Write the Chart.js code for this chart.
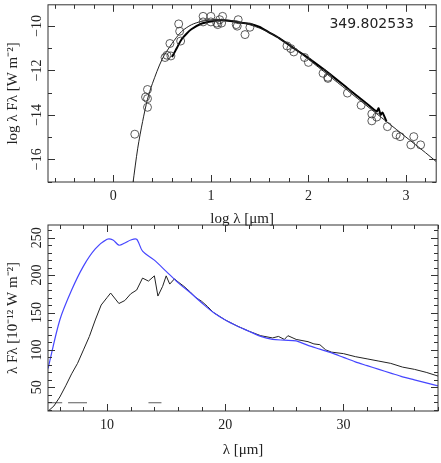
<!DOCTYPE html>
<html><head><meta charset="utf-8">
<script src="https://cdn.jsdelivr.net/npm/chart.js@4/dist/chart.umd.min.js"></script>
<style>
body{margin:0;background:#fff;width:441px;height:463px;position:relative;overflow:hidden}
#c1{position:absolute;left:0;top:0}
#c2{position:absolute;left:0;top:224px}
</style></head><body>
<canvas id="c1" width="441" height="232"></canvas>
<canvas id="c2" width="441" height="239"></canvas>
<script>
// top panel: photometry (log lambda, log lambda F)
const photX = [0.22,0.35,0.33,0.35,0.35,0.53,0.55,0.59,0.58,0.67,0.68,0.69,0.92,1.0,0.92,1.0,1.06,1.07,1.12,1.11,1.09,1.28,1.26,1.27,1.35,1.40,1.78,1.82,1.85,1.96,2.0,2.15,2.2,2.2,2.40,2.54,2.65,2.65,2.70,2.81,2.90,2.94,3.05,3.08,3.15]
const photY = [-14.87,-12.86,-13.2,-13.27,-13.66,-11.42,-11.32,-11.35,-10.79,-9.91,-10.24,-10.68,-9.57,-9.57,-9.82,-9.82,-9.87,-9.94,-9.57,-9.87,-9.72,-9.72,-9.94,-10.01,-10.39,-10.06,-10.9,-11.02,-11.17,-11.42,-11.64,-12.13,-12.31,-12.36,-13.02,-13.57,-13.96,-14.27,-14.1,-14.53,-14.9,-14.98,-15.35,-14.98,-15.35]
const modelX = [0.2,0.25,0.3,0.35,0.4,0.5,0.6,0.7,0.8,0.9,1.0,1.1,1.2,1.3,1.4,1.5,1.6,1.7,1.8,1.9,2.0,2.2,2.4,2.6,2.8,3.0,3.2,3.31]
const modelY = [-17.1,-15.5,-14.3,-13.3,-12.6,-11.5,-10.8,-10.25,-9.95,-9.8,-9.73,-9.72,-9.75,-9.83,-9.95,-10.1,-10.3,-10.55,-10.85,-11.15,-11.5,-12.2,-12.9,-13.6,-14.3,-15.0,-15.7,-16.1]
const specX = [0.6,0.62,0.65,0.7,0.75,0.8,0.9,1.0,1.1,1.2,1.3,1.4,1.5,1.6,1.7,1.8,1.9,2.0,2.2,2.4,2.6,2.7,2.72,2.74,2.76,2.8]
const specY = [-11.4,-11.25,-11.0,-10.6,-10.35,-10.15,-9.9,-9.8,-9.75,-9.78,-9.85,-9.9,-10.05,-10.3,-10.55,-10.85,-11.15,-11.45,-12.1,-12.8,-13.5,-13.85,-13.7,-14.0,-13.9,-14.3]
const topXTicks = [0,1,2,3]
const topYTicks = [-16,-14,-12,-10]

// bottom panel: spectrum vs model (lambda in micron)
const modX2 = [5,6,7,8,9,10,10.5,11,11.5,12,12.5,13,14,15,16,17,18,19,20,21,22,23,24,25,26,27,28,29,30,31,32,33,34,35,36,37,38]
const modY2 = [75,140,180,212,235,248,247,240,243,247,248,232,220,205,190,177,163,150,140,132,125,118,114,113,112,106,101,96,90,84,79,74,69,64,60,56,52]
const obsX2 = [5,5.5,6,6.5,7,7.5,8,8.5,9,9.5,10,10.3,10.7,11,11.5,12,12.5,13,13.5,14,14.3,14.7,15,15.3,15.7,16,16.5,17,17.5,18,18.5,19,20,21,22,23,24,24.5,25,25.3,26,27,27.5,28,28.5,29,30,31,32,33,34,35,36,37,38]
const obsY2 = [18,25,37,52,68,82,100,118,140,160,170,176,168,162,166,175,180,196,192,199,172,185,199,188,195,191,185,178,170,165,158,150,140,132,125,119,116,118,114,119,114,111,108,107,100,97,95,91,88,85,82,77,74,70,65]
const dash1X = [5,6.2], dash2X = [6.7,8.3], dash3X = [13.5,14.6], dashY = 29.4
const botXTicks = [10,20,30]
const botYTicks = [50,100,150,200,250]

const serif = '"Liberation Serif", serif'

// ticks pointing inward on all sides, y labels rotated like the original
function tickPlugin(xMajor, xMinor, yMajor, yMinor, yLabels) {
  return {
    id: 'ticks',
    afterDraw(chart) {
      const ctx = chart.ctx, a = chart.chartArea, sx = chart.scales.x, sy = chart.scales.y
      ctx.save()
      ctx.strokeStyle = '#333'
      ctx.lineWidth = 1
      ctx.strokeRect(a.left, a.top, a.right - a.left, a.bottom - a.top)
      ctx.beginPath()
      for (let v = Math.ceil(sx.min / xMinor) * xMinor; v <= sx.max; v += xMinor) {
        const p = Math.round(sx.getPixelForValue(v)) + 0.5
        const big = Math.abs(v / xMajor - Math.round(v / xMajor)) < 1e-6
        const l = big ? 7 : 4
        ctx.moveTo(p, a.bottom); ctx.lineTo(p, a.bottom - l)
        ctx.moveTo(p, a.top); ctx.lineTo(p, a.top + l)
      }
      for (let v = Math.ceil(sy.min / yMinor) * yMinor; v <= sy.max; v += yMinor) {
        const p = Math.round(sy.getPixelForValue(v)) + 0.5
        const big = Math.abs(v / yMajor - Math.round(v / yMajor)) < 1e-6
        const l = big ? 7 : 4
        ctx.moveTo(a.left, p); ctx.lineTo(a.left + l, p)
        ctx.moveTo(a.right, p); ctx.lineTo(a.right - l, p)
      }
      ctx.stroke()
      ctx.fillStyle = '#222'
      ctx.font = '14px ' + serif
      ctx.textAlign = 'center'
      ctx.textBaseline = 'bottom'
      yLabels.forEach(v => {
        ctx.save()
        ctx.translate(a.left - 4, sy.getPixelForValue(v))
        ctx.rotate(-Math.PI / 2)
        ctx.fillText(String(v).replace('-', '\u2212'), 0, 0)
        ctx.restore()
      })
      ctx.restore()
    }
  }
}

function axes(xmin, xmax, ymin, ymax, xTicks, xTitle, yTitle, xh) {
  return {
    x: {
      type: 'linear', min: xmin, max: xmax,
      afterBuildTicks: s => { s.ticks = xTicks.map(v => ({ value: v })) },
      afterFit: s => { s.height = xh },
      grid: { display: false }, border: { display: false },
      ticks: { color: '#222', font: { family: serif, size: 14 }, padding: -2,
        callback: v => String(v) },
      title: { display: true, text: xTitle, color: '#222', font: { family: serif, size: 15 }, padding: { top: 12 } }
    },
    y: {
      type: 'linear', min: ymin, max: ymax,
      afterFit: s => { s.width = 48 },
      grid: { display: false }, border: { display: false },
      ticks: { display: false },
      title: { display: true, text: yTitle, color: '#222', font: { family: serif, size: 15 }, padding: { bottom: 18 } }
    }
  }
}

new Chart(document.getElementById('c1'), {
  type: 'scatter',
  data: {
    datasets: [
      { data: photX.map((x, i) => ({ x, y: photY[i] })), pointRadius: 4, pointBorderWidth: 0.8,
        pointBorderColor: '#333', pointBackgroundColor: 'rgba(0,0,0,0)' },
      { data: modelX.map((x, i) => ({ x, y: modelY[i] })), showLine: true, pointRadius: 0,
        borderColor: '#222', borderWidth: 1, tension: 0.3 },
      { data: specX.map((x, i) => ({ x, y: specY[i] })), showLine: true, pointRadius: 0,
        borderColor: '#000', borderWidth: 2, tension: 0.2 }
    ]
  },
  options: {
    animation: false, responsive: false,
    layout: { padding: { top: 1, right: 1, left: 0, bottom: 0 } },
    plugins: { legend: { display: false }, tooltip: { enabled: false } },
    scales: axes(-0.67, 3.31, -17.02, -9.05, topXTicks, 'log λ [μm]', 'log λ Fλ [W m⁻²]', 50)
  },
  plugins: [tickPlugin(1, 0.2, 2, 1, topYTicks), {
    id: 'name',
    afterDraw(chart) {
      const ctx = chart.ctx
      ctx.save()
      ctx.font = '14px "DejaVu Sans", sans-serif'
      ctx.fillStyle = '#222'
      ctx.textAlign = 'right'
      ctx.fillText('349.802533', 414, 28)
      ctx.restore()
    }
  }]
})

const dash = (xs) => ({ data: xs.map(x => ({ x, y: dashY })), showLine: true, pointRadius: 0,
  borderColor: '#777', borderWidth: 1.2 })

new Chart(document.getElementById('c2'), {
  type: 'scatter',
  data: {
    datasets: [
      { data: modX2.map((x, i) => ({ x, y: modY2[i] })), showLine: true, pointRadius: 0,
        borderColor: '#4646ff', borderWidth: 1.2, tension: 0.3 },
      { data: obsX2.map((x, i) => ({ x, y: obsY2[i] })), showLine: true, pointRadius: 0,
        borderColor: '#222', borderWidth: 1 },
      dash(dash1X), dash(dash2X), dash(dash3X)
    ]
  },
  options: {
    animation: false, responsive: false,
    layout: { padding: { top: 1, right: 3, left: 0, bottom: 0 } },
    plugins: { legend: { display: false }, tooltip: { enabled: false } },
    scales: axes(5, 38, 18.3, 267, botXTicks, 'λ [μm]', 'λ Fλ [10⁻¹² W m⁻²]', 52)
  },
  plugins: [tickPlugin(10, 2, 50, 10, botYTicks)]
})
</script>
</body></html>
